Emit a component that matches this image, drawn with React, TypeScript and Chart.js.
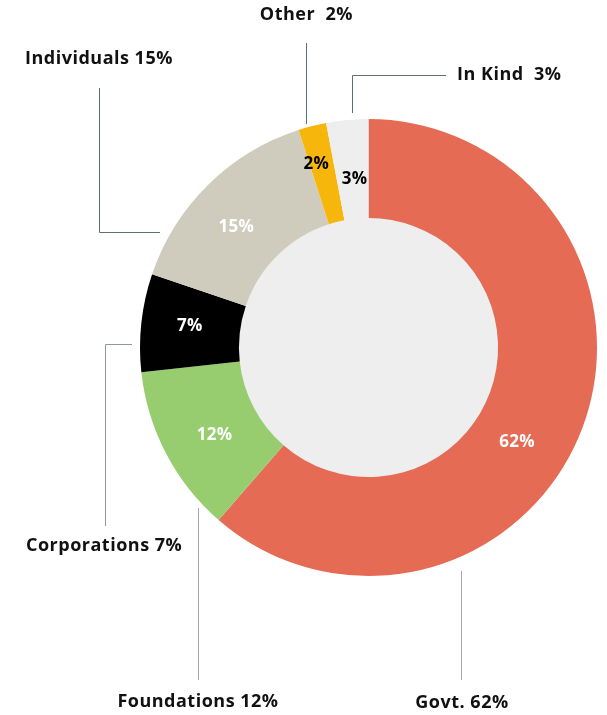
import React, { useEffect, useRef } from "react";
import { Chart, registerables } from "chart.js";

Chart.register(...registerables);

// ---- data ----
const categories = ["Govt.", "Foundations", "Corporations", "Individuals", "Other", "In Kind"];
const values = [62, 12, 7, 15, 2, 3];
const labelGaps = [" ", " ", " ", " ", "  ", "  "];

// ---- styles ----
const sliceColors = ["#E56B55", "#97CD6F", "#000000", "#D0CCBD", "#F6B60C", "#EEEEEE"];
const innerLabelColors = ["#FFFFFF", "#FFFFFF", "#FFFFFF", "#FFFFFF", "#000000", "#000000"];
// [angle nudge in degrees, radial fraction inside ring]
const innerLabelNudges = [
  [12, 0.47],
  [-2, 0.48],
  [0.5, 0.51],
  [-3, 0.5],
  [-1.6, 0.62],
  [0.6, 0.4],
];
const FONT = "'Open Sans', 'Noto Sans', sans-serif";

// callout annotation geometry (page coords)
const callouts = [
  { text: [462, 703, "center"], line: [[461.5, 571], [461.5, 680]], color: "#A3AAB1" },
  { text: [198, 702, "center"], line: [[198.5, 508], [198.5, 680]], color: "#A3AAB1" },
  { text: [26, 546, "left"], line: [[132, 344.5], [105.5, 344.5], [105.5, 526]], color: "#8E98A1" },
  { text: [25, 59, "left"], line: [[160, 232.5], [99.5, 232.5], [99.5, 88]], color: "#5F6D79" },
  { text: [353, 15, "right"], line: [[306.5, 43], [306.5, 124]], color: "#5F6D79" },
  { text: [457, 75, "left"], line: [[446, 75.5], [352.5, 75.5], [352.5, 113]], color: "#5F6D79" },
];

const decorPlugin = {
  id: "decor",
  beforeDatasetsDraw(chart: any) {
    const arc = chart.getDatasetMeta(0).data[0];
    if (!arc) return;
    const { x, y, innerRadius } = arc.getProps(["x", "y", "innerRadius"], true);
    const ctx = chart.ctx;
    ctx.save();
    ctx.fillStyle = "#EEEEEE";
    ctx.beginPath();
    ctx.arc(x, y, innerRadius + 0.5, 0, Math.PI * 2);
    ctx.fill();
    ctx.restore();
  },
  afterDatasetsDraw(chart: any) {
    const ctx = chart.ctx;
    const meta = chart.getDatasetMeta(0);
    ctx.save();
    // inner labels
    ctx.font = `700 17px ${FONT}`;
    (ctx as any).letterSpacing = "0.3px";
    ctx.textAlign = "center";
    ctx.textBaseline = "middle";
    meta.data.forEach((el: any, i: number) => {
      const p = el.getProps(["x", "y", "startAngle", "endAngle", "innerRadius", "outerRadius"], true);
      const [dA, frac] = innerLabelNudges[i];
      const a = (p.startAngle + p.endAngle) / 2 + (dA * Math.PI) / 180;
      const r = p.innerRadius + frac * (p.outerRadius - p.innerRadius);
      ctx.fillStyle = innerLabelColors[i];
      ctx.fillText(`${values[i]}%`, p.x + r * Math.cos(a), p.y + r * Math.sin(a));
    });
    // callouts
    ctx.font = `700 18px ${FONT}`;
    (ctx as any).letterSpacing = "0.5px";
    callouts.forEach((c, i) => {
      ctx.strokeStyle = c.color;
      ctx.lineWidth = 1;
      ctx.beginPath();
      c.line.forEach((pt, k) => (k === 0 ? ctx.moveTo(pt[0], pt[1]) : ctx.lineTo(pt[0], pt[1])));
      ctx.stroke();
      const [tx, ty, align] = c.text as [number, number, CanvasTextAlign];
      ctx.fillStyle = "#111111";
      ctx.textAlign = align;
      ctx.textBaseline = "middle";
      ctx.fillText(`${categories[i]}${labelGaps[i]}${values[i]}%`, tx, ty);
    });
    ctx.restore();
  },
};

export default function App() {
  const ref = useRef<HTMLCanvasElement>(null);
  useEffect(() => {
    if (!ref.current) return;
    const chart = new Chart(ref.current, {
      type: "doughnut",
      data: {
        labels: categories,
        datasets: [
          {
            data: values,
            backgroundColor: sliceColors,
            borderWidth: 0,
          },
        ],
      },
      options: {
        responsive: false,
        animation: false,
        rotation: 0,
        cutout: "56.7%",
        layout: { padding: { left: 140, right: 10, top: 119, bottom: 139 } },
        plugins: { legend: { display: false }, tooltip: { enabled: false } },
      },
      plugins: [decorPlugin],
    });
    return () => chart.destroy();
  }, []);
  return (
    <div style={{ position: "absolute", left: 0, top: 0, width: 607, height: 715, background: "#fff" }}>
      <canvas ref={ref} width={607} height={715} style={{ width: 607, height: 715 }} />
    </div>
  );
}
